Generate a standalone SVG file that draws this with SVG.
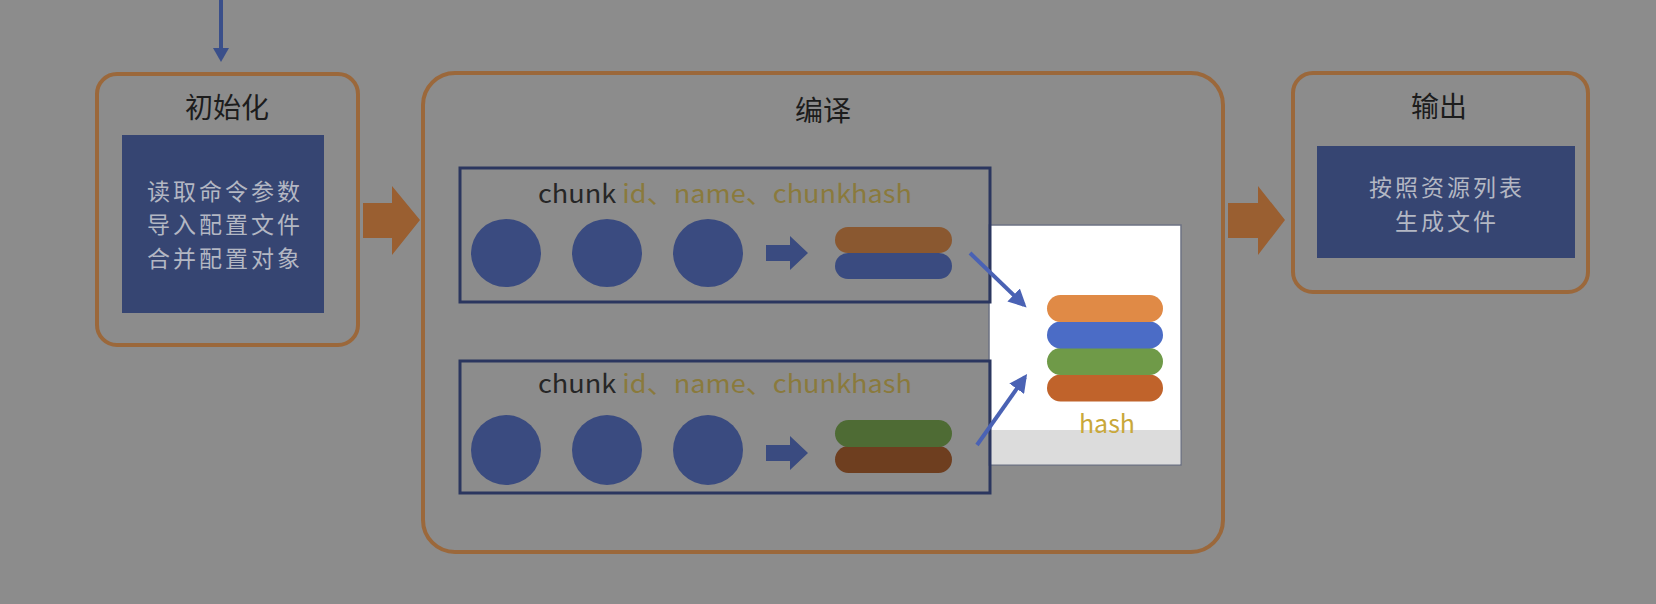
<svg xmlns="http://www.w3.org/2000/svg" width="1656" height="604" viewBox="0 0 1656 604">
<defs>
<style>
.stage{fill:none;stroke:#9b683b;stroke-width:4}
.panel{fill:#364572}
.title{font-family:"Noto Sans CJK SC","Noto Sans",sans-serif;font-size:28px;fill:#1c1c1c;text-anchor:middle}
.ptext{font-family:"Noto Sans CJK SC","Noto Sans",sans-serif;font-size:23px;letter-spacing:3px;fill:#b3b7c3;text-anchor:middle}
.chunk{fill:none;stroke:#2b365f;stroke-width:3}
.ctext{font-family:"Noto Sans CJK SC","Noto Sans",sans-serif;font-size:25px;fill:#262626}
.olive{fill:#8a7a3c}
.dot{fill:#3a4b80}
.big{fill:#9a5f31}
.small{fill:#3a4b80}
.link{stroke:#4a62b4;stroke-width:4;fill:none;marker-end:url(#ah)}
</style>
<marker id="ah" viewBox="0 0 10 10" refX="8" refY="5" markerWidth="4.5" markerHeight="4.5" orient="auto" markerUnits="strokeWidth">
<path d="M0,0 L10,5 L0,10 z" fill="#4a62b4"/>
</marker>
</defs>
<rect x="0" y="0" width="1656" height="604" fill="#8c8c8c"/>

<g id="init">
<rect class="stage" x="97" y="74" width="261" height="271" rx="20"/>
<text class="title" x="227" y="118">初始化</text>
<rect class="panel" x="122" y="135" width="202" height="178"/>
<text class="ptext" x="225" y="199.5">读取命令参数</text>
<text class="ptext" x="225" y="233">导入配置文件</text>
<text class="ptext" x="225" y="266.5">合并配置对象</text>
</g>

<g id="compile">
<rect class="stage" x="423" y="73" width="800" height="479" rx="32"/>
<text class="title" x="823" y="121">编译</text>
</g>

<g id="hash">
<rect x="989" y="225" width="192" height="240" fill="#ffffff" stroke="#6c7282" stroke-width="1.5"/>
<rect x="989.75" y="430" width="190.5" height="34.25" fill="#dcdcdc"/>
<rect x="1047" y="374.5" width="116" height="27" rx="13.5" fill="#c0632b"/>
<rect x="1047" y="348" width="116" height="27" rx="13.5" fill="#6f9a48"/>
<rect x="1047" y="321.5" width="116" height="27" rx="13.5" fill="#4b6cc6"/>
<rect x="1047" y="295" width="116" height="27" rx="13.5" fill="#e08a46"/>
<text x="1107" y="433" text-anchor="middle" font-family="Noto Sans CJK SC,Noto Sans,sans-serif" font-size="25" fill="#c9a83a">hash</text>
</g>

<g id="chunk1">
<rect class="chunk" x="460" y="168" width="530" height="134"/>
<text class="ctext" x="538" y="203" textLength="374" lengthAdjust="spacingAndGlyphs">chunk <tspan class="olive">id、name、chunkhash</tspan></text>
<ellipse class="dot" cx="506" cy="253" rx="35" ry="34"/>
<ellipse class="dot" cx="607" cy="253" rx="35" ry="34"/>
<ellipse class="dot" cx="708" cy="253" rx="35" ry="34"/>
<polygon class="small" points="766,245 790,245 790,236 808,253 790,270 790,261 766,261"/>
<rect x="835" y="253" width="117" height="26" rx="13" fill="#3a4b80"/>
<rect x="835" y="227" width="117" height="26" rx="13" fill="#8a5830"/>
</g>

<g id="chunk2">
<rect class="chunk" x="460" y="361" width="530" height="132"/>
<text class="ctext" x="538" y="393" textLength="374" lengthAdjust="spacingAndGlyphs">chunk <tspan class="olive">id、name、chunkhash</tspan></text>
<ellipse class="dot" cx="506" cy="450" rx="35" ry="35"/>
<ellipse class="dot" cx="607" cy="450" rx="35" ry="35"/>
<ellipse class="dot" cx="708" cy="450" rx="35" ry="35"/>
<polygon class="small" points="766,445 790,445 790,436 808,453 790,470 790,461 766,461"/>
<rect x="835" y="446" width="117" height="27" rx="13.5" fill="#6e3e1f"/>
<rect x="835" y="420" width="117" height="27" rx="13.5" fill="#4e6b34"/>
</g>

<g id="output">
<rect class="stage" x="1293" y="73" width="295" height="219" rx="20"/>
<text class="title" x="1439" y="117">输出</text>
<rect class="panel" x="1317" y="146" width="258" height="112"/>
<text class="ptext" x="1447" y="196">按照资源列表</text>
<text class="ptext" x="1447" y="229.5">生成文件</text>
</g>

<g id="connectors">
<line x1="221" y1="0" x2="221" y2="50" stroke="#3a4f8a" stroke-width="4"/>
<polygon points="213,48 229,48 221,62" fill="#3a4f8a"/>
<polygon class="big" points="363,203 392,203 392,186 420,220 392,255 392,238 363,238"/>
<polygon class="big" points="1228,203 1258,203 1258,186 1285,220 1258,255 1258,238 1228,238"/>
<line class="link" x1="970" y1="253" x2="1024" y2="305"/>
<line class="link" x1="977" y1="445" x2="1025" y2="377"/>
</g>
</svg>
